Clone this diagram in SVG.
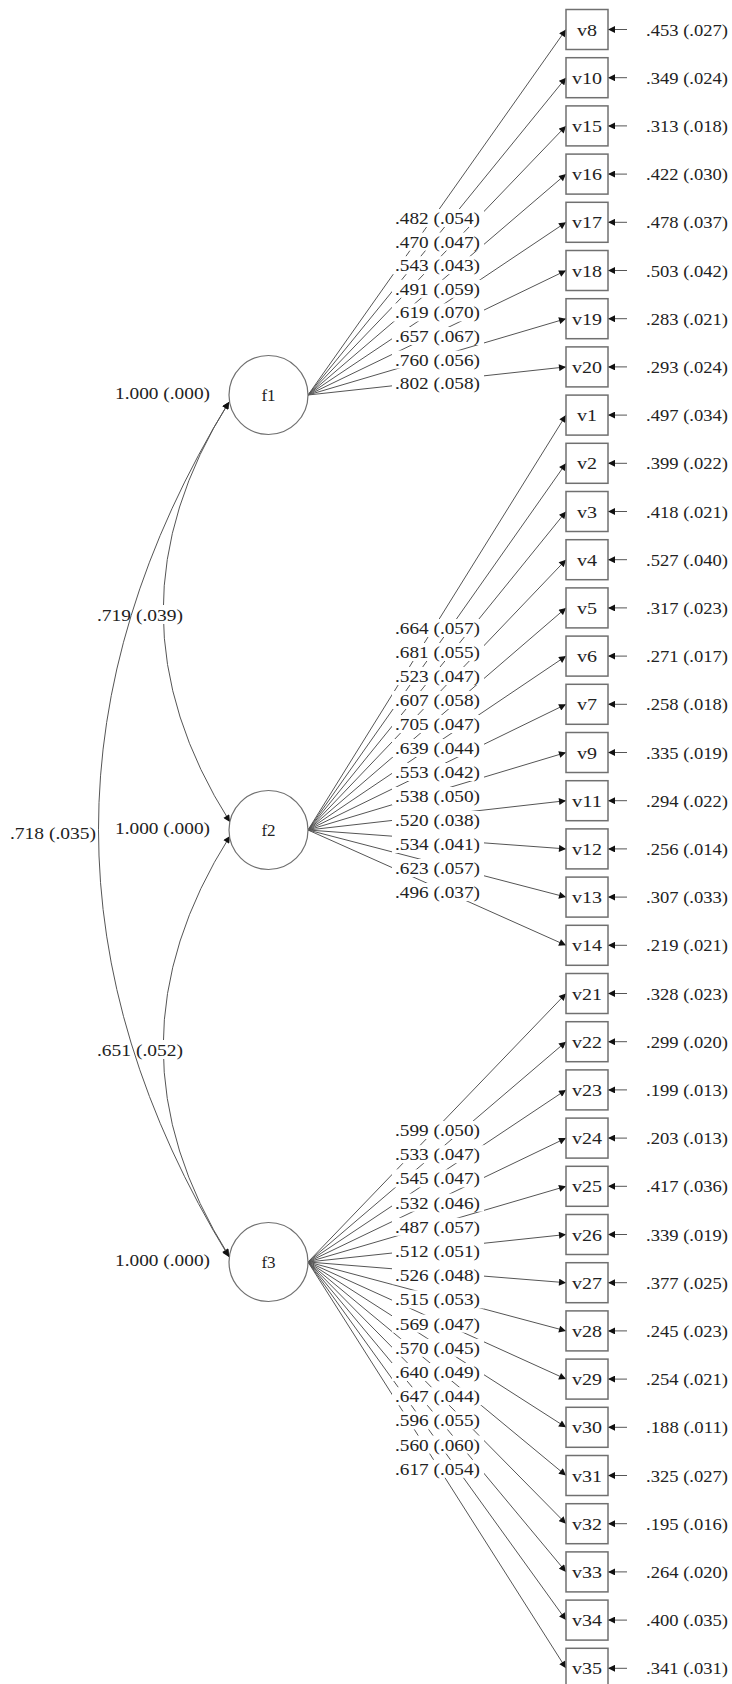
<svg xmlns="http://www.w3.org/2000/svg" width="732" height="1684" viewBox="0 0 732 1684">
<style>
.box{fill:#fff;stroke:#707070;stroke-width:1.5}
.circ{fill:#fff;stroke:#707070;stroke-width:1.2}
.t{font-family:"Liberation Serif","Times New Roman",serif;font-size:17px;fill:#222}
.m{text-anchor:middle}
.ln{stroke:#555;stroke-width:1;fill:none}
.bg{fill:#fff}
</style>
<defs>
<marker id="ah" viewBox="0 0 10 10" refX="10" refY="5" markerWidth="8" markerHeight="7" markerUnits="userSpaceOnUse" orient="auto-start-reverse"><path d="M0,0 L10,5 L0,10 z" fill="#111"/></marker>
</defs>
<rect width="732" height="1684" fill="#fff"/>
<g id="connectors">
<path class="ln" d="M229,402 Q97,612 230,822" marker-start="url(#ah)" marker-end="url(#ah)"/>
<path class="ln" d="M230,836 Q97,1046 229,1256" marker-start="url(#ah)" marker-end="url(#ah)"/>
<path class="ln" d="M308,395 L566,29.5" marker-end="url(#ah)"/>
<path class="ln" d="M308,395 L566,77.7" marker-end="url(#ah)"/>
<path class="ln" d="M308,395 L566,125.9" marker-end="url(#ah)"/>
<path class="ln" d="M308,395 L566,174.1" marker-end="url(#ah)"/>
<path class="ln" d="M308,395 L566,222.3" marker-end="url(#ah)"/>
<path class="ln" d="M308,395 L566,270.5" marker-end="url(#ah)"/>
<path class="ln" d="M308,395 L566,318.7" marker-end="url(#ah)"/>
<path class="ln" d="M308,395 L566,366.9" marker-end="url(#ah)"/>
<path class="ln" d="M308,830 L566,415.1" marker-end="url(#ah)"/>
<path class="ln" d="M308,830 L566,463.3" marker-end="url(#ah)"/>
<path class="ln" d="M308,830 L566,511.5" marker-end="url(#ah)"/>
<path class="ln" d="M308,830 L566,559.7" marker-end="url(#ah)"/>
<path class="ln" d="M308,830 L566,607.9" marker-end="url(#ah)"/>
<path class="ln" d="M308,830 L566,656.1" marker-end="url(#ah)"/>
<path class="ln" d="M308,830 L566,704.3" marker-end="url(#ah)"/>
<path class="ln" d="M308,830 L566,752.5" marker-end="url(#ah)"/>
<path class="ln" d="M308,830 L566,800.7" marker-end="url(#ah)"/>
<path class="ln" d="M308,830 L566,848.9" marker-end="url(#ah)"/>
<path class="ln" d="M308,830 L566,897.1" marker-end="url(#ah)"/>
<path class="ln" d="M308,830 L566,945.3" marker-end="url(#ah)"/>
<path class="ln" d="M308,1262 L566,993.5" marker-end="url(#ah)"/>
<path class="ln" d="M308,1262 L566,1041.7" marker-end="url(#ah)"/>
<path class="ln" d="M308,1262 L566,1089.9" marker-end="url(#ah)"/>
<path class="ln" d="M308,1262 L566,1138.1" marker-end="url(#ah)"/>
<path class="ln" d="M308,1262 L566,1186.3" marker-end="url(#ah)"/>
<path class="ln" d="M308,1262 L566,1234.5" marker-end="url(#ah)"/>
<path class="ln" d="M308,1262 L566,1282.7" marker-end="url(#ah)"/>
<path class="ln" d="M308,1262 L566,1330.9" marker-end="url(#ah)"/>
<path class="ln" d="M308,1262 L566,1379.1" marker-end="url(#ah)"/>
<path class="ln" d="M308,1262 L566,1427.3" marker-end="url(#ah)"/>
<path class="ln" d="M308,1262 L566,1475.5" marker-end="url(#ah)"/>
<path class="ln" d="M308,1262 L566,1523.7" marker-end="url(#ah)"/>
<path class="ln" d="M308,1262 L566,1571.9" marker-end="url(#ah)"/>
<path class="ln" d="M308,1262 L566,1620.1" marker-end="url(#ah)"/>
<path class="ln" d="M308,1262 L566,1668.3" marker-end="url(#ah)"/>
<path class="ln" d="M627,29.5 H608" marker-end="url(#ah)"/>
<path class="ln" d="M627,77.7 H608" marker-end="url(#ah)"/>
<path class="ln" d="M627,125.9 H608" marker-end="url(#ah)"/>
<path class="ln" d="M627,174.1 H608" marker-end="url(#ah)"/>
<path class="ln" d="M627,222.3 H608" marker-end="url(#ah)"/>
<path class="ln" d="M627,270.5 H608" marker-end="url(#ah)"/>
<path class="ln" d="M627,318.7 H608" marker-end="url(#ah)"/>
<path class="ln" d="M627,366.9 H608" marker-end="url(#ah)"/>
<path class="ln" d="M627,415.1 H608" marker-end="url(#ah)"/>
<path class="ln" d="M627,463.3 H608" marker-end="url(#ah)"/>
<path class="ln" d="M627,511.5 H608" marker-end="url(#ah)"/>
<path class="ln" d="M627,559.7 H608" marker-end="url(#ah)"/>
<path class="ln" d="M627,607.9 H608" marker-end="url(#ah)"/>
<path class="ln" d="M627,656.1 H608" marker-end="url(#ah)"/>
<path class="ln" d="M627,704.3 H608" marker-end="url(#ah)"/>
<path class="ln" d="M627,752.5 H608" marker-end="url(#ah)"/>
<path class="ln" d="M627,800.7 H608" marker-end="url(#ah)"/>
<path class="ln" d="M627,848.9 H608" marker-end="url(#ah)"/>
<path class="ln" d="M627,897.1 H608" marker-end="url(#ah)"/>
<path class="ln" d="M627,945.3 H608" marker-end="url(#ah)"/>
<path class="ln" d="M627,993.5 H608" marker-end="url(#ah)"/>
<path class="ln" d="M627,1041.7 H608" marker-end="url(#ah)"/>
<path class="ln" d="M627,1089.9 H608" marker-end="url(#ah)"/>
<path class="ln" d="M627,1138.1 H608" marker-end="url(#ah)"/>
<path class="ln" d="M627,1186.3 H608" marker-end="url(#ah)"/>
<path class="ln" d="M627,1234.5 H608" marker-end="url(#ah)"/>
<path class="ln" d="M627,1282.7 H608" marker-end="url(#ah)"/>
<path class="ln" d="M627,1330.9 H608" marker-end="url(#ah)"/>
<path class="ln" d="M627,1379.1 H608" marker-end="url(#ah)"/>
<path class="ln" d="M627,1427.3 H608" marker-end="url(#ah)"/>
<path class="ln" d="M627,1475.5 H608" marker-end="url(#ah)"/>
<path class="ln" d="M627,1523.7 H608" marker-end="url(#ah)"/>
<path class="ln" d="M627,1571.9 H608" marker-end="url(#ah)"/>
<path class="ln" d="M627,1620.1 H608" marker-end="url(#ah)"/>
<path class="ln" d="M627,1668.3 H608" marker-end="url(#ah)"/>
<rect class="bg" x="95" y="605" width="90" height="19"/>
<text class="t" x="97" y="621" textLength="86" lengthAdjust="spacingAndGlyphs">.719 (.039)</text>
<rect class="bg" x="95" y="1040" width="90" height="19"/>
<text class="t" x="97" y="1056" textLength="86" lengthAdjust="spacingAndGlyphs">.651 (.052)</text>
<text class="t" x="10" y="839" textLength="86" lengthAdjust="spacingAndGlyphs">.718 (.035)</text>
<path class="ln" d="M229,402 Q-32,829 229,1257" marker-start="url(#ah)" marker-end="url(#ah)"/>
<text class="t" x="115" y="399" textLength="95" lengthAdjust="spacingAndGlyphs">1.000 (.000)</text>
<text class="t" x="115" y="834" textLength="95" lengthAdjust="spacingAndGlyphs">1.000 (.000)</text>
<text class="t" x="115" y="1266" textLength="95" lengthAdjust="spacingAndGlyphs">1.000 (.000)</text>
<g>
<rect class="bg" x="392" y="209" width="92" height="18"/>
<rect class="bg" x="392" y="232.6" width="92" height="18"/>
<rect class="bg" x="392" y="256.2" width="92" height="18"/>
<rect class="bg" x="392" y="279.8" width="92" height="18"/>
<rect class="bg" x="392" y="303.4" width="92" height="18"/>
<rect class="bg" x="392" y="327" width="92" height="18"/>
<rect class="bg" x="392" y="350.6" width="92" height="18"/>
<rect class="bg" x="392" y="374.2" width="92" height="18"/>
<text class="t" x="395" y="224" textLength="85" lengthAdjust="spacingAndGlyphs">.482 (.054)</text>
<text class="t" x="395" y="247.6" textLength="85" lengthAdjust="spacingAndGlyphs">.470 (.047)</text>
<text class="t" x="395" y="271.2" textLength="85" lengthAdjust="spacingAndGlyphs">.543 (.043)</text>
<text class="t" x="395" y="294.8" textLength="85" lengthAdjust="spacingAndGlyphs">.491 (.059)</text>
<text class="t" x="395" y="318.4" textLength="85" lengthAdjust="spacingAndGlyphs">.619 (.070)</text>
<text class="t" x="395" y="342" textLength="85" lengthAdjust="spacingAndGlyphs">.657 (.067)</text>
<text class="t" x="395" y="365.6" textLength="85" lengthAdjust="spacingAndGlyphs">.760 (.056)</text>
<text class="t" x="395" y="389.2" textLength="85" lengthAdjust="spacingAndGlyphs">.802 (.058)</text>
</g>
<g>
<rect class="bg" x="392" y="619" width="92" height="18"/>
<rect class="bg" x="392" y="643" width="92" height="18"/>
<rect class="bg" x="392" y="667" width="92" height="18"/>
<rect class="bg" x="392" y="691" width="92" height="18"/>
<rect class="bg" x="392" y="715" width="92" height="18"/>
<rect class="bg" x="392" y="739" width="92" height="18"/>
<rect class="bg" x="392" y="763" width="92" height="18"/>
<rect class="bg" x="392" y="787" width="92" height="18"/>
<rect class="bg" x="392" y="811" width="92" height="18"/>
<rect class="bg" x="392" y="835" width="92" height="18"/>
<rect class="bg" x="392" y="859" width="92" height="18"/>
<rect class="bg" x="392" y="883" width="92" height="18"/>
<text class="t" x="395" y="634" textLength="85" lengthAdjust="spacingAndGlyphs">.664 (.057)</text>
<text class="t" x="395" y="658" textLength="85" lengthAdjust="spacingAndGlyphs">.681 (.055)</text>
<text class="t" x="395" y="682" textLength="85" lengthAdjust="spacingAndGlyphs">.523 (.047)</text>
<text class="t" x="395" y="706" textLength="85" lengthAdjust="spacingAndGlyphs">.607 (.058)</text>
<text class="t" x="395" y="730" textLength="85" lengthAdjust="spacingAndGlyphs">.705 (.047)</text>
<text class="t" x="395" y="754" textLength="85" lengthAdjust="spacingAndGlyphs">.639 (.044)</text>
<text class="t" x="395" y="778" textLength="85" lengthAdjust="spacingAndGlyphs">.553 (.042)</text>
<text class="t" x="395" y="802" textLength="85" lengthAdjust="spacingAndGlyphs">.538 (.050)</text>
<text class="t" x="395" y="826" textLength="85" lengthAdjust="spacingAndGlyphs">.520 (.038)</text>
<text class="t" x="395" y="850" textLength="85" lengthAdjust="spacingAndGlyphs">.534 (.041)</text>
<text class="t" x="395" y="874" textLength="85" lengthAdjust="spacingAndGlyphs">.623 (.057)</text>
<text class="t" x="395" y="898" textLength="85" lengthAdjust="spacingAndGlyphs">.496 (.037)</text>
</g>
<g>
<rect class="bg" x="392" y="1121" width="92" height="18"/>
<rect class="bg" x="392" y="1145.2" width="92" height="18"/>
<rect class="bg" x="392" y="1169.4" width="92" height="18"/>
<rect class="bg" x="392" y="1193.6" width="92" height="18"/>
<rect class="bg" x="392" y="1217.8" width="92" height="18"/>
<rect class="bg" x="392" y="1242" width="92" height="18"/>
<rect class="bg" x="392" y="1266.2" width="92" height="18"/>
<rect class="bg" x="392" y="1290.4" width="92" height="18"/>
<rect class="bg" x="392" y="1314.6" width="92" height="18"/>
<rect class="bg" x="392" y="1338.8" width="92" height="18"/>
<rect class="bg" x="392" y="1363" width="92" height="18"/>
<rect class="bg" x="392" y="1387.2" width="92" height="18"/>
<rect class="bg" x="392" y="1411.4" width="92" height="18"/>
<rect class="bg" x="392" y="1435.6" width="92" height="18"/>
<rect class="bg" x="392" y="1459.8" width="92" height="18"/>
<text class="t" x="395" y="1136" textLength="85" lengthAdjust="spacingAndGlyphs">.599 (.050)</text>
<text class="t" x="395" y="1160.2" textLength="85" lengthAdjust="spacingAndGlyphs">.533 (.047)</text>
<text class="t" x="395" y="1184.4" textLength="85" lengthAdjust="spacingAndGlyphs">.545 (.047)</text>
<text class="t" x="395" y="1208.6" textLength="85" lengthAdjust="spacingAndGlyphs">.532 (.046)</text>
<text class="t" x="395" y="1232.8" textLength="85" lengthAdjust="spacingAndGlyphs">.487 (.057)</text>
<text class="t" x="395" y="1257" textLength="85" lengthAdjust="spacingAndGlyphs">.512 (.051)</text>
<text class="t" x="395" y="1281.2" textLength="85" lengthAdjust="spacingAndGlyphs">.526 (.048)</text>
<text class="t" x="395" y="1305.4" textLength="85" lengthAdjust="spacingAndGlyphs">.515 (.053)</text>
<text class="t" x="395" y="1329.6" textLength="85" lengthAdjust="spacingAndGlyphs">.569 (.047)</text>
<text class="t" x="395" y="1353.8" textLength="85" lengthAdjust="spacingAndGlyphs">.570 (.045)</text>
<text class="t" x="395" y="1378" textLength="85" lengthAdjust="spacingAndGlyphs">.640 (.049)</text>
<text class="t" x="395" y="1402.2" textLength="85" lengthAdjust="spacingAndGlyphs">.647 (.044)</text>
<text class="t" x="395" y="1426.4" textLength="85" lengthAdjust="spacingAndGlyphs">.596 (.055)</text>
<text class="t" x="395" y="1450.6" textLength="85" lengthAdjust="spacingAndGlyphs">.560 (.060)</text>
<text class="t" x="395" y="1474.8" textLength="85" lengthAdjust="spacingAndGlyphs">.617 (.054)</text>
</g>
<g>
<text class="t" x="646" y="35.5" textLength="82" lengthAdjust="spacingAndGlyphs">.453 (.027)</text>
<text class="t" x="646" y="83.7" textLength="82" lengthAdjust="spacingAndGlyphs">.349 (.024)</text>
<text class="t" x="646" y="131.9" textLength="82" lengthAdjust="spacingAndGlyphs">.313 (.018)</text>
<text class="t" x="646" y="180.1" textLength="82" lengthAdjust="spacingAndGlyphs">.422 (.030)</text>
<text class="t" x="646" y="228.3" textLength="82" lengthAdjust="spacingAndGlyphs">.478 (.037)</text>
<text class="t" x="646" y="276.5" textLength="82" lengthAdjust="spacingAndGlyphs">.503 (.042)</text>
<text class="t" x="646" y="324.7" textLength="82" lengthAdjust="spacingAndGlyphs">.283 (.021)</text>
<text class="t" x="646" y="372.9" textLength="82" lengthAdjust="spacingAndGlyphs">.293 (.024)</text>
<text class="t" x="646" y="421.1" textLength="82" lengthAdjust="spacingAndGlyphs">.497 (.034)</text>
<text class="t" x="646" y="469.3" textLength="82" lengthAdjust="spacingAndGlyphs">.399 (.022)</text>
<text class="t" x="646" y="517.5" textLength="82" lengthAdjust="spacingAndGlyphs">.418 (.021)</text>
<text class="t" x="646" y="565.7" textLength="82" lengthAdjust="spacingAndGlyphs">.527 (.040)</text>
<text class="t" x="646" y="613.9" textLength="82" lengthAdjust="spacingAndGlyphs">.317 (.023)</text>
<text class="t" x="646" y="662.1" textLength="82" lengthAdjust="spacingAndGlyphs">.271 (.017)</text>
<text class="t" x="646" y="710.3" textLength="82" lengthAdjust="spacingAndGlyphs">.258 (.018)</text>
<text class="t" x="646" y="758.5" textLength="82" lengthAdjust="spacingAndGlyphs">.335 (.019)</text>
<text class="t" x="646" y="806.7" textLength="82" lengthAdjust="spacingAndGlyphs">.294 (.022)</text>
<text class="t" x="646" y="854.9" textLength="82" lengthAdjust="spacingAndGlyphs">.256 (.014)</text>
<text class="t" x="646" y="903.1" textLength="82" lengthAdjust="spacingAndGlyphs">.307 (.033)</text>
<text class="t" x="646" y="951.3" textLength="82" lengthAdjust="spacingAndGlyphs">.219 (.021)</text>
<text class="t" x="646" y="999.5" textLength="82" lengthAdjust="spacingAndGlyphs">.328 (.023)</text>
<text class="t" x="646" y="1047.7" textLength="82" lengthAdjust="spacingAndGlyphs">.299 (.020)</text>
<text class="t" x="646" y="1095.9" textLength="82" lengthAdjust="spacingAndGlyphs">.199 (.013)</text>
<text class="t" x="646" y="1144.1" textLength="82" lengthAdjust="spacingAndGlyphs">.203 (.013)</text>
<text class="t" x="646" y="1192.3" textLength="82" lengthAdjust="spacingAndGlyphs">.417 (.036)</text>
<text class="t" x="646" y="1240.5" textLength="82" lengthAdjust="spacingAndGlyphs">.339 (.019)</text>
<text class="t" x="646" y="1288.7" textLength="82" lengthAdjust="spacingAndGlyphs">.377 (.025)</text>
<text class="t" x="646" y="1336.9" textLength="82" lengthAdjust="spacingAndGlyphs">.245 (.023)</text>
<text class="t" x="646" y="1385.1" textLength="82" lengthAdjust="spacingAndGlyphs">.254 (.021)</text>
<text class="t" x="646" y="1433.3" textLength="82" lengthAdjust="spacingAndGlyphs">.188 (.011)</text>
<text class="t" x="646" y="1481.5" textLength="82" lengthAdjust="spacingAndGlyphs">.325 (.027)</text>
<text class="t" x="646" y="1529.7" textLength="82" lengthAdjust="spacingAndGlyphs">.195 (.016)</text>
<text class="t" x="646" y="1577.9" textLength="82" lengthAdjust="spacingAndGlyphs">.264 (.020)</text>
<text class="t" x="646" y="1626.1" textLength="82" lengthAdjust="spacingAndGlyphs">.400 (.035)</text>
<text class="t" x="646" y="1674.3" textLength="82" lengthAdjust="spacingAndGlyphs">.341 (.031)</text>
</g>
</g>
<g id="f1"><circle class="circ" cx="268.5" cy="395" r="39.5"/><text class="t m" x="268.5" y="401">f1</text></g>
<g id="f2"><circle class="circ" cx="268.5" cy="830" r="39.5"/><text class="t m" x="268.5" y="836">f2</text></g>
<g id="f3"><circle class="circ" cx="268.5" cy="1262" r="39.5"/><text class="t m" x="268.5" y="1268">f3</text></g>
<g id="v8"><rect class="box" x="566" y="9.5" width="42" height="40"/><text class="t m" x="587" y="35.5" textLength="20" lengthAdjust="spacingAndGlyphs">v8</text></g>
<g id="v10"><rect class="box" x="566" y="57.7" width="42" height="40"/><text class="t m" x="587" y="83.7" textLength="30" lengthAdjust="spacingAndGlyphs">v10</text></g>
<g id="v15"><rect class="box" x="566" y="105.9" width="42" height="40"/><text class="t m" x="587" y="131.9" textLength="30" lengthAdjust="spacingAndGlyphs">v15</text></g>
<g id="v16"><rect class="box" x="566" y="154.1" width="42" height="40"/><text class="t m" x="587" y="180.1" textLength="30" lengthAdjust="spacingAndGlyphs">v16</text></g>
<g id="v17"><rect class="box" x="566" y="202.3" width="42" height="40"/><text class="t m" x="587" y="228.3" textLength="30" lengthAdjust="spacingAndGlyphs">v17</text></g>
<g id="v18"><rect class="box" x="566" y="250.5" width="42" height="40"/><text class="t m" x="587" y="276.5" textLength="30" lengthAdjust="spacingAndGlyphs">v18</text></g>
<g id="v19"><rect class="box" x="566" y="298.7" width="42" height="40"/><text class="t m" x="587" y="324.7" textLength="30" lengthAdjust="spacingAndGlyphs">v19</text></g>
<g id="v20"><rect class="box" x="566" y="346.9" width="42" height="40"/><text class="t m" x="587" y="372.9" textLength="30" lengthAdjust="spacingAndGlyphs">v20</text></g>
<g id="v1"><rect class="box" x="566" y="395.1" width="42" height="40"/><text class="t m" x="587" y="421.1" textLength="20" lengthAdjust="spacingAndGlyphs">v1</text></g>
<g id="v2"><rect class="box" x="566" y="443.3" width="42" height="40"/><text class="t m" x="587" y="469.3" textLength="20" lengthAdjust="spacingAndGlyphs">v2</text></g>
<g id="v3"><rect class="box" x="566" y="491.5" width="42" height="40"/><text class="t m" x="587" y="517.5" textLength="20" lengthAdjust="spacingAndGlyphs">v3</text></g>
<g id="v4"><rect class="box" x="566" y="539.7" width="42" height="40"/><text class="t m" x="587" y="565.7" textLength="20" lengthAdjust="spacingAndGlyphs">v4</text></g>
<g id="v5"><rect class="box" x="566" y="587.9" width="42" height="40"/><text class="t m" x="587" y="613.9" textLength="20" lengthAdjust="spacingAndGlyphs">v5</text></g>
<g id="v6"><rect class="box" x="566" y="636.1" width="42" height="40"/><text class="t m" x="587" y="662.1" textLength="20" lengthAdjust="spacingAndGlyphs">v6</text></g>
<g id="v7"><rect class="box" x="566" y="684.3" width="42" height="40"/><text class="t m" x="587" y="710.3" textLength="20" lengthAdjust="spacingAndGlyphs">v7</text></g>
<g id="v9"><rect class="box" x="566" y="732.5" width="42" height="40"/><text class="t m" x="587" y="758.5" textLength="20" lengthAdjust="spacingAndGlyphs">v9</text></g>
<g id="v11"><rect class="box" x="566" y="780.7" width="42" height="40"/><text class="t m" x="587" y="806.7" textLength="30" lengthAdjust="spacingAndGlyphs">v11</text></g>
<g id="v12"><rect class="box" x="566" y="828.9" width="42" height="40"/><text class="t m" x="587" y="854.9" textLength="30" lengthAdjust="spacingAndGlyphs">v12</text></g>
<g id="v13"><rect class="box" x="566" y="877.1" width="42" height="40"/><text class="t m" x="587" y="903.1" textLength="30" lengthAdjust="spacingAndGlyphs">v13</text></g>
<g id="v14"><rect class="box" x="566" y="925.3" width="42" height="40"/><text class="t m" x="587" y="951.3" textLength="30" lengthAdjust="spacingAndGlyphs">v14</text></g>
<g id="v21"><rect class="box" x="566" y="973.5" width="42" height="40"/><text class="t m" x="587" y="999.5" textLength="30" lengthAdjust="spacingAndGlyphs">v21</text></g>
<g id="v22"><rect class="box" x="566" y="1021.7" width="42" height="40"/><text class="t m" x="587" y="1047.7" textLength="30" lengthAdjust="spacingAndGlyphs">v22</text></g>
<g id="v23"><rect class="box" x="566" y="1069.9" width="42" height="40"/><text class="t m" x="587" y="1095.9" textLength="30" lengthAdjust="spacingAndGlyphs">v23</text></g>
<g id="v24"><rect class="box" x="566" y="1118.1" width="42" height="40"/><text class="t m" x="587" y="1144.1" textLength="30" lengthAdjust="spacingAndGlyphs">v24</text></g>
<g id="v25"><rect class="box" x="566" y="1166.3" width="42" height="40"/><text class="t m" x="587" y="1192.3" textLength="30" lengthAdjust="spacingAndGlyphs">v25</text></g>
<g id="v26"><rect class="box" x="566" y="1214.5" width="42" height="40"/><text class="t m" x="587" y="1240.5" textLength="30" lengthAdjust="spacingAndGlyphs">v26</text></g>
<g id="v27"><rect class="box" x="566" y="1262.7" width="42" height="40"/><text class="t m" x="587" y="1288.7" textLength="30" lengthAdjust="spacingAndGlyphs">v27</text></g>
<g id="v28"><rect class="box" x="566" y="1310.9" width="42" height="40"/><text class="t m" x="587" y="1336.9" textLength="30" lengthAdjust="spacingAndGlyphs">v28</text></g>
<g id="v29"><rect class="box" x="566" y="1359.1" width="42" height="40"/><text class="t m" x="587" y="1385.1" textLength="30" lengthAdjust="spacingAndGlyphs">v29</text></g>
<g id="v30"><rect class="box" x="566" y="1407.3" width="42" height="40"/><text class="t m" x="587" y="1433.3" textLength="30" lengthAdjust="spacingAndGlyphs">v30</text></g>
<g id="v31"><rect class="box" x="566" y="1455.5" width="42" height="40"/><text class="t m" x="587" y="1481.5" textLength="30" lengthAdjust="spacingAndGlyphs">v31</text></g>
<g id="v32"><rect class="box" x="566" y="1503.7" width="42" height="40"/><text class="t m" x="587" y="1529.7" textLength="30" lengthAdjust="spacingAndGlyphs">v32</text></g>
<g id="v33"><rect class="box" x="566" y="1551.9" width="42" height="40"/><text class="t m" x="587" y="1577.9" textLength="30" lengthAdjust="spacingAndGlyphs">v33</text></g>
<g id="v34"><rect class="box" x="566" y="1600.1" width="42" height="40"/><text class="t m" x="587" y="1626.1" textLength="30" lengthAdjust="spacingAndGlyphs">v34</text></g>
<g id="v35"><rect class="box" x="566" y="1648.3" width="42" height="40"/><text class="t m" x="587" y="1674.3" textLength="30" lengthAdjust="spacingAndGlyphs">v35</text></g>
</svg>
